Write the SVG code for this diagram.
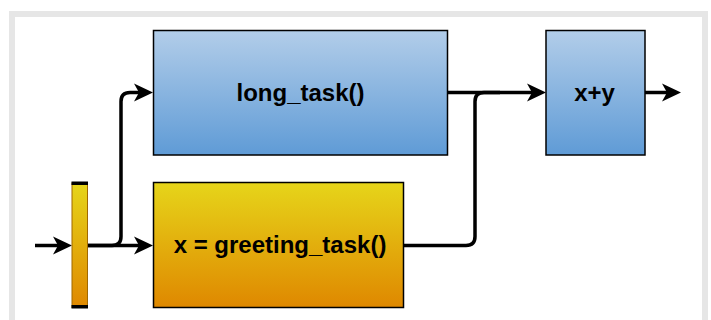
<svg xmlns="http://www.w3.org/2000/svg" width="711" height="320" viewBox="0 0 711 320">
  <defs>
    <linearGradient id="gBlue" x1="0" y1="0" x2="0" y2="1">
      <stop offset="0" stop-color="#b2cde9"/>
      <stop offset="1" stop-color="#5f9bd6"/>
    </linearGradient>
    <linearGradient id="gOrange" x1="0" y1="0" x2="0" y2="1">
      <stop offset="0" stop-color="#e6d51a"/>
      <stop offset="1" stop-color="#df8800"/>
    </linearGradient>
    <path id="head" d="M0,0 L-19,-9 L-14,0 L-19,9 Z"/>
  </defs>
  <style>
    .box { stroke: #000; stroke-width: 1.5; }
    .lbl { font-family: "Liberation Sans", Arial, sans-serif; font-weight: bold; font-size: 24px; fill: #000; text-anchor: middle; }
    .wire { fill: none; stroke: #000; stroke-width: 3.5; stroke-linejoin: round; }
    .head { fill: #000; }
  </style>
  <rect x="0" y="0" width="711" height="320" fill="#fff"/>
  <rect x="12" y="14" width="693" height="320" fill="#fff" stroke="#e6e6e6" stroke-width="6"/>

  <g id="connectors">
    <path class="wire" d="M35,245.5 H60"/>
    <path class="wire" d="M88,245.5 H141"/>
    <path class="wire" d="M88,245.5 H112 Q121,245.5 121,236.5 V101.5 Q121,92.5 130,92.5 H141"/>
    <path class="wire" d="M448,92.5 H534"/>
    <path class="wire" d="M404,245.5 H466 Q475,245.5 475,236.5 V101.5 Q475,92.5 484,92.5 H500"/>
    <path class="wire" d="M645,92.5 H668"/>
    <use href="#head" class="head" x="72" y="245.5"/>
    <use href="#head" class="head" x="153" y="245.5"/>
    <use href="#head" class="head" x="153" y="92.5"/>
    <use href="#head" class="head" x="546" y="92.5"/>
    <use href="#head" class="head" x="681" y="92.5"/>
  </g>

  <g id="split">
    <rect x="72" y="183" width="15.5" height="124.5" fill="url(#gOrange)" stroke="#a06800" stroke-width="1"/>
    <rect x="71.5" y="181.5" width="16.5" height="3.5" fill="#000"/>
    <rect x="71.5" y="305" width="16.5" height="3.5" fill="#000"/>
  </g>

  <g id="long_task">
    <rect class="box" x="153.5" y="30.5" width="294" height="124.5" fill="url(#gBlue)"/>
    <text class="lbl" x="300.5" y="101">long_task()</text>
  </g>

  <g id="greeting_task">
    <rect class="box" x="153.5" y="182.5" width="250" height="125" fill="url(#gOrange)"/>
    <text class="lbl" x="280" y="253">x = greeting_task()</text>
  </g>

  <g id="sum">
    <rect class="box" x="546" y="30.5" width="99" height="124.5" fill="url(#gBlue)"/>
    <text class="lbl" x="594.5" y="101">x+y</text>
  </g>
</svg>
